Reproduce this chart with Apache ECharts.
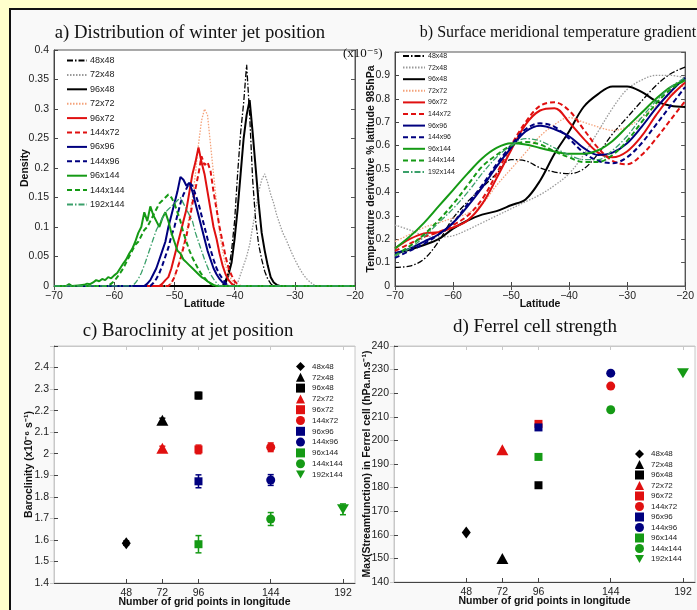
<!DOCTYPE html>
<html lang="en">
<head>
    <meta charset="UTF-8">
    <title>Jet position, temperature gradient, baroclinity and Ferrel cell</title>
    <script src="https://cdn.jsdelivr.net/npm/echarts@6.0.0/dist/echarts.min.js"></script>
</head>
<style>
    body{
        margin: 0;
        padding: 0;
        background: #ffffcc;
    }
    #frame{
        position: absolute;
        left: 9px;
        top: 8px;
        width: 688px;
        height: 602px;
        background: #f9f9f9;
        border-left: 2px solid #111;
        border-top: 2px solid #111;
    }
    #main{
        position: absolute;
        left: 0;
        top: 0;
        width: 697px;
        height: 610px;
    }
</style>
<body>
<div id="frame"></div>
<div id="main"></div>
<script>
    // resolutions (longitude x latitude grid points)
    var resolutions = ['48x48', '72x48', '96x48', '72x72', '96x72', '144x72', '96x96', '144x96', '96x144', '144x144', '192x144'];

    // a) jet position density, [latitude, density]
    var jet48x48 = [[-70, 0], [-42, 0], [-41.5, 0.01], [-41, 0.025], [-40.5, 0.06], [-40, 0.11], [-39.5, 0.19], [-39, 0.26], [-38.5, 0.31], [-38, 0.375], [-37.5, 0.29], [-37, 0.18], [-36.5, 0.11], [-36, 0.07], [-35.5, 0.045], [-35, 0.025], [-34.5, 0.012], [-34, 0.004], [-33.5, 0], [-20, 0]];
    var jet72x48 = [[-70, 0], [-40, 0], [-39.5, 0.005], [-39, 0.02], [-38.5, 0.035], [-38, 0.05], [-37.5, 0.07], [-37, 0.1], [-36.5, 0.13], [-36, 0.16], [-35.5, 0.18], [-35, 0.19], [-34.5, 0.175], [-34, 0.155], [-33.5, 0.14], [-33, 0.12], [-32.5, 0.105], [-32, 0.09], [-31.5, 0.08], [-31, 0.068], [-30.5, 0.056], [-30, 0.045], [-29.5, 0.035], [-29, 0.026], [-28.5, 0.018], [-28, 0.012], [-27.5, 0.007], [-27, 0.003], [-26.5, 0], [-20, 0]];
    var jet96x48 = [[-70, 0], [-42, 0], [-41.5, 0.005], [-41, 0.02], [-40.5, 0.04], [-40, 0.08], [-39.5, 0.13], [-39, 0.19], [-38.5, 0.25], [-38, 0.29], [-37.5, 0.315], [-37, 0.26], [-36.5, 0.2], [-36, 0.14], [-35.5, 0.09], [-35, 0.06], [-34.5, 0.035], [-34, 0.015], [-33.5, 0.006], [-33, 0.002], [-32.5, 0], [-20, 0]];
    var jet72x72 = [[-70, 0], [-51, 0], [-50.5, 0.005], [-50, 0.015], [-49.5, 0.03], [-49, 0.05], [-48.5, 0.07], [-48, 0.09], [-47.5, 0.12], [-47, 0.15], [-46.5, 0.19], [-46, 0.24], [-45.5, 0.28], [-45, 0.3], [-44.5, 0.29], [-44, 0.24], [-43.5, 0.19], [-43, 0.14], [-42.5, 0.09], [-42, 0.06], [-41.5, 0.035], [-41, 0.02], [-40.5, 0.01], [-40, 0.004], [-39.5, 0], [-20, 0]];
    var jet96x72 = [[-70, 0], [-52.5, 0], [-52, 0.004], [-51.5, 0.01], [-51, 0.015], [-50.5, 0.03], [-50, 0.05], [-49.5, 0.07], [-49, 0.09], [-48.5, 0.11], [-48, 0.13], [-47.5, 0.16], [-47, 0.19], [-46.5, 0.21], [-46, 0.235], [-45.5, 0.21], [-45, 0.19], [-44.5, 0.16], [-44, 0.13], [-43.5, 0.1], [-43, 0.08], [-42.5, 0.055], [-42, 0.035], [-41.5, 0.02], [-41, 0.01], [-40.5, 0.004], [-40, 0], [-20, 0]];
    var jet144x72 = [[-70, 0], [-51, 0], [-50.5, 0.005], [-50, 0.015], [-49.5, 0.03], [-49, 0.045], [-48.5, 0.065], [-48, 0.085], [-47.5, 0.11], [-47, 0.14], [-46.5, 0.165], [-46, 0.19], [-45.5, 0.22], [-45, 0.205], [-44.5, 0.21], [-44, 0.195], [-43.5, 0.16], [-43, 0.13], [-42.5, 0.1], [-42, 0.075], [-41.5, 0.05], [-41, 0.03], [-40.5, 0.018], [-40, 0.008], [-39.5, 0.003], [-39, 0], [-20, 0]];
    var jet96x96 = [[-70, 0], [-55, 0], [-54.5, 0.004], [-54, 0.01], [-53.5, 0.02], [-53, 0.03], [-52.5, 0.045], [-52, 0.06], [-51.5, 0.075], [-51, 0.1], [-50.5, 0.12], [-50, 0.14], [-49.5, 0.16], [-49, 0.185], [-48.5, 0.18], [-48, 0.17], [-47.5, 0.175], [-47, 0.16], [-46.5, 0.14], [-46, 0.12], [-45.5, 0.1], [-45, 0.08], [-44.5, 0.06], [-44, 0.045], [-43.5, 0.03], [-43, 0.02], [-42.5, 0.012], [-42, 0.006], [-41.5, 0.002], [-41, 0], [-20, 0]];
    var jet144x96 = [[-70, 0], [-54, 0], [-53.5, 0.005], [-53, 0.012], [-52.5, 0.022], [-52, 0.035], [-51.5, 0.05], [-51, 0.065], [-50.5, 0.085], [-50, 0.1], [-49.5, 0.12], [-49, 0.14], [-48.5, 0.155], [-48, 0.165], [-47.5, 0.175], [-47, 0.17], [-46.5, 0.155], [-46, 0.14], [-45.5, 0.12], [-45, 0.1], [-44.5, 0.08], [-44, 0.062], [-43.5, 0.045], [-43, 0.03], [-42.5, 0.02], [-42, 0.012], [-41.5, 0.005], [-41, 0], [-20, 0]];
    var jet96x144 = [[-70, 0], [-68, 0], [-67.5, 0.003], [-67, 0], [-66, 0.001], [-65, 0.002], [-64.5, 0.004], [-64, 0.003], [-63.5, 0.006], [-63, 0.01], [-62.5, 0.008], [-62, 0.012], [-61.5, 0.01], [-61, 0.015], [-60.5, 0.013], [-60, 0.018], [-59.5, 0.022], [-59, 0.03], [-58.5, 0.038], [-58, 0.045], [-57.5, 0.055], [-57, 0.063], [-56.5, 0.075], [-56, 0.09], [-55.5, 0.1], [-55, 0.125], [-54.5, 0.11], [-54, 0.135], [-53.5, 0.12], [-53, 0.11], [-52.5, 0.1], [-52, 0.115], [-51.5, 0.125], [-51, 0.11], [-50.5, 0.09], [-50, 0.075], [-49.5, 0.06], [-49, 0.055], [-48.5, 0.045], [-48, 0.04], [-47.5, 0.035], [-47, 0.03], [-46.5, 0.025], [-46, 0.02], [-45.5, 0.015], [-45, 0.012], [-44.5, 0.008], [-44, 0.005], [-43.5, 0.002], [-43, 0], [-20, 0]];
    var jet144x144 = [[-70, 0], [-61, 0], [-60.5, 0.004], [-60, 0.008], [-59.5, 0.015], [-59, 0.022], [-58.5, 0.03], [-58, 0.04], [-57.5, 0.05], [-57, 0.06], [-56.5, 0.07], [-56, 0.075], [-55.5, 0.085], [-55, 0.095], [-54.5, 0.1], [-54, 0.11], [-53.5, 0.12], [-53, 0.13], [-52.5, 0.14], [-52, 0.145], [-51.5, 0.15], [-51, 0.155], [-50.5, 0.15], [-50, 0.14], [-49.5, 0.125], [-49, 0.11], [-48.5, 0.09], [-48, 0.075], [-47.5, 0.06], [-47, 0.048], [-46.5, 0.038], [-46, 0.028], [-45.5, 0.02], [-45, 0.014], [-44.5, 0.008], [-44, 0.004], [-43.5, 0.001], [-43, 0], [-20, 0]];
    var jet192x144 = [[-70, 0], [-57, 0], [-56.5, 0.005], [-56, 0.012], [-55.5, 0.022], [-55, 0.035], [-54.5, 0.05], [-54, 0.065], [-53.5, 0.08], [-53, 0.095], [-52.5, 0.105], [-52, 0.115], [-51.5, 0.125], [-51, 0.13], [-50.5, 0.135], [-50, 0.14], [-49.5, 0.145], [-49, 0.15], [-48.5, 0.14], [-48, 0.13], [-47.5, 0.12], [-47, 0.11], [-46.5, 0.09], [-46, 0.075], [-45.5, 0.06], [-45, 0.045], [-44.5, 0.032], [-44, 0.02], [-43.5, 0.012], [-43, 0.005], [-42.5, 0], [-20, 0]];
    var jetCurves = [jet48x48, jet72x48, jet96x48, jet72x72, jet96x72, jet144x72, jet96x96, jet144x96, jet96x144, jet144x144, jet192x144];

    // b) surface meridional temperature gradient (x1e-5)
    var latB = [-70, -67.5, -65, -62.5, -60, -57.5, -55, -52.5, -50, -47.5, -45, -42.5, -40, -37.5, -35, -32.5, -30, -27.5, -25, -22.5, -20];
    var grad48x48 = [0.08, 0.085, 0.115, 0.19, 0.29, 0.36, 0.42, 0.48, 0.54, 0.535, 0.505, 0.487, 0.48, 0.5, 0.565, 0.65, 0.72, 0.79, 0.857, 0.907, 0.935];
    var grad72x48 = [0.26, 0.24, 0.215, 0.21, 0.215, 0.24, 0.27, 0.3, 0.33, 0.36, 0.39, 0.43, 0.48, 0.56, 0.66, 0.76, 0.84, 0.88, 0.9, 0.9, 0.89];
    var grad96x48 = [0.14, 0.155, 0.175, 0.2, 0.245, 0.28, 0.305, 0.32, 0.345, 0.37, 0.45, 0.565, 0.66, 0.765, 0.82, 0.853, 0.853, 0.83, 0.79, 0.77, 0.765];
    var grad72x72 = [0.19, 0.22, 0.25, 0.27, 0.29, 0.31, 0.35, 0.43, 0.5, 0.57, 0.64, 0.69, 0.72, 0.7, 0.68, 0.665, 0.68, 0.72, 0.77, 0.82, 0.86];
    var grad96x72 = [0.16, 0.2, 0.225, 0.23, 0.25, 0.28, 0.35, 0.46, 0.58, 0.69, 0.75, 0.76, 0.7, 0.63, 0.57, 0.55, 0.575, 0.64, 0.73, 0.81, 0.87];
    var grad144x72 = [0.15, 0.18, 0.21, 0.23, 0.26, 0.3, 0.37, 0.48, 0.6, 0.7, 0.77, 0.785, 0.75, 0.67, 0.59, 0.535, 0.52, 0.56, 0.63, 0.71, 0.79];
    var grad96x96 = [0.14, 0.16, 0.19, 0.22, 0.27, 0.34, 0.42, 0.51, 0.59, 0.66, 0.685, 0.67, 0.64, 0.59, 0.56, 0.57, 0.61, 0.68, 0.76, 0.83, 0.89];
    var grad144x96 = [0.12, 0.15, 0.18, 0.22, 0.27, 0.35, 0.43, 0.52, 0.6, 0.67, 0.695, 0.68, 0.63, 0.57, 0.535, 0.525, 0.55, 0.61, 0.69, 0.77, 0.85];
    var grad96x144 = [0.16, 0.21, 0.27, 0.34, 0.41, 0.48, 0.545, 0.59, 0.61, 0.605, 0.59, 0.575, 0.565, 0.565, 0.58, 0.62, 0.68, 0.74, 0.8, 0.85, 0.88];
    var grad144x144 = [0.13, 0.17, 0.22, 0.28, 0.35, 0.43, 0.51, 0.56, 0.6, 0.615, 0.605, 0.575, 0.55, 0.53, 0.53, 0.56, 0.62, 0.7, 0.78, 0.84, 0.88];
    var grad192x144 = [0.13, 0.16, 0.21, 0.27, 0.33, 0.4, 0.48, 0.55, 0.6, 0.63, 0.62, 0.59, 0.56, 0.54, 0.54, 0.58, 0.64, 0.72, 0.79, 0.85, 0.89];
    var gradCurves = [grad48x48, grad72x48, grad96x48, grad72x72, grad96x72, grad144x72, grad96x96, grad144x96, grad96x144, grad144x144, grad192x144];

    // c) and d) one point per resolution
    var lonPoints = [48, 72, 96, 72, 96, 144, 96, 144, 96, 144, 192];
    var baroclinity = [1.585, 2.155, 2.27, 2.025, 2.02, 2.03, 1.872, 1.878, 1.58, 1.697, 1.742];
    var baroError = [0.01, 0.01, 0.015, 0.01, 0.02, 0.02, 0.03, 0.025, 0.04, 0.03, 0.025];
    var ferrelMax = [161, 150, 181, 196, 207, 223, 205.5, 228.5, 193, 213, 228.5];
    var lonTicks = [48, 72, 96, 144, 192];

    // styles
    var lineColors = ['#000000', '#9a9a9a', '#000000', '#f4a27a', '#e01010', '#e01010', '#00007f', '#00007f', '#159a15', '#159a15', '#3aa06a'];
    var lineTypes = [[6, 2, 1.5, 2], [1.5, 1.5], 'solid', [1.5, 1.5], 'solid', [5, 3], 'solid', [5, 3], 'solid', [5, 3], [6, 2, 1.5, 2]];
    var lineWidths = [1.3, 1.3, 2, 1.3, 2, 2, 2, 2, 2, 2, 1.3];
    var markerColors = ['#000000', '#000000', '#000000', '#e01010', '#e01010', '#e01010', '#00007f', '#00007f', '#159a15', '#159a15', '#159a15'];
    var downTri = 'path://M0,0 L10,0 L5,9 Z';
    var markerSymbols = ['diamond', 'triangle', 'rect', 'triangle', 'rect', 'circle', 'rect', 'circle', 'rect', 'circle', downTri];
    var markerSizes = [[9, 12], [12, 11], [8, 8], [12, 11], [8, 8], [9, 9], [8, 8], [9, 9], [8, 8], [9, 9], [12, 10]];

    var nameFont = {fontFamily: 'Liberation Sans', fontSize: 10.5, fontWeight: 'bold', color: '#111'};
    var serif = '"Liberation Serif", "DejaVu Serif", serif';

    function minusSign(v) {
        return String(v).replace('-', '\u2212');
    }

    function mainAxis(grid, pos, min, max, interval, name, gap, extra) {
        var ax = {
            type: 'value', gridIndex: grid, position: pos, min: min, max: max, interval: interval,
            name: name, nameLocation: 'middle', nameGap: gap, nameTextStyle: nameFont, nameMoveOverlap: false,
            axisLine: {show: true, lineStyle: {color: '#444', width: 1}},
            axisTick: {show: true, inside: true, length: 4, lineStyle: {color: '#444'}},
            axisLabel: {show: true, margin: 5, formatter: minusSign, fontFamily: 'Liberation Sans', fontSize: 10.5, color: '#222'},
            splitLine: {show: false}
        };
        for (var k in extra) {
            ax[k] = extra[k];
        }
        return ax;
    }

    function mirrorAxis(grid, pos, min, max, interval, color, custom) {
        var ax = {
            type: 'value', gridIndex: grid, position: pos, min: min, max: max, interval: interval,
            axisLine: {show: true, lineStyle: {color: color}},
            axisTick: {show: true, inside: true, length: 4, lineStyle: {color: color}},
            axisLabel: {show: false},
            splitLine: {show: false}
        };
        if (custom) {
            ax.axisTick.customValues = custom;
        }
        return ax;
    }

    var lonExtra = {
        axisTick: {show: true, inside: true, length: 4, lineStyle: {color: '#444'}, customValues: lonTicks},
        axisLabel: {show: true, margin: 5, customValues: lonTicks, fontFamily: 'Liberation Sans', fontSize: 10.5, color: '#222'}
    };

    var chart = echarts.init(document.getElementById('main'));

    var series = [];
    for (var i = 0; i < resolutions.length; i++) {
        series.push({
            type: 'line', name: 'a|' + resolutions[i], xAxisIndex: 0, yAxisIndex: 0,
            data: jetCurves[i], symbol: 'none', clip: true,
            lineStyle: {color: lineColors[i], width: lineWidths[i], type: lineTypes[i]},
            itemStyle: {color: lineColors[i]}
        });
    }
    for (var i = 0; i < resolutions.length; i++) {
        var pts = [];
        for (var j = 0; j < latB.length; j++) {
            pts.push([latB[j], gradCurves[i][j]]);
        }
        series.push({
            type: 'line', name: 'b|' + resolutions[i], xAxisIndex: 1, yAxisIndex: 1,
            data: pts, symbol: 'none', smooth: 0.35, clip: true,
            lineStyle: {color: lineColors[i], width: lineWidths[i], type: lineTypes[i]},
            itemStyle: {color: lineColors[i]}
        });
    }
    // error bars for c)
    var errData = [];
    for (var i = 0; i < resolutions.length; i++) {
        errData.push([lonPoints[i], baroclinity[i], baroError[i], i]);
    }
    series.push({
        type: 'custom', name: 'errors', xAxisIndex: 2, yAxisIndex: 2, z: 1,
        data: errData,
        renderItem: function (params, api) {
            var x = api.value(0), y = api.value(1), e = api.value(2);
            var c = markerColors[api.value(3)];
            var p1 = api.coord([x, y + e]), p2 = api.coord([x, y - e]);
            var st = {stroke: c, lineWidth: 1.5};
            return {
                type: 'group', children: [
                    {type: 'line', shape: {x1: p1[0], y1: p1[1], x2: p2[0], y2: p2[1]}, style: st},
                    {type: 'line', shape: {x1: p1[0] - 3, y1: p1[1], x2: p1[0] + 3, y2: p1[1]}, style: st},
                    {type: 'line', shape: {x1: p2[0] - 3, y1: p2[1], x2: p2[0] + 3, y2: p2[1]}, style: st}
                ]
            };
        }
    });
    for (var i = 0; i < resolutions.length; i++) {
        series.push({
            type: 'scatter', name: 'c|' + resolutions[i], xAxisIndex: 2, yAxisIndex: 2, z: 3,
            data: [[lonPoints[i], baroclinity[i]]],
            symbol: markerSymbols[i], symbolSize: markerSizes[i],
            itemStyle: {color: markerColors[i], opacity: 1}
        });
    }
    for (var i = 0; i < resolutions.length; i++) {
        series.push({
            type: 'scatter', name: 'd|' + resolutions[i], xAxisIndex: 3, yAxisIndex: 3, z: 3,
            data: [[lonPoints[i], ferrelMax[i]]],
            symbol: markerSymbols[i], symbolSize: markerSizes[i],
            itemStyle: {color: markerColors[i], opacity: 1}
        });
    }

    function legendFor(prefix, left, top, iw, ih, gap, fs, lh, lineOnly, textPad) {
        var lg = {
            orient: 'vertical', left: left, top: top, padding: 0,
            itemWidth: iw, itemHeight: ih, itemGap: gap, selectedMode: false,
            data: resolutions.map(function (r) { return prefix + '|' + r; }),
            formatter: function (n) { return n.split('|')[1]; },
            textStyle: {fontFamily: 'Liberation Sans', fontSize: fs, lineHeight: lh, color: '#222', padding: [0, 0, 0, textPad]}
        };
        if (lineOnly) {
            // line series draw a symbol in the legend; hide it, keep the line
            lg.itemStyle = {opacity: 0};
        }
        return lg;
    }

    function titleText(text, x, y, size) {
        return {
            type: 'text', x: x, y: y,
            style: {text: text, font: size + 'px ' + serif, fill: '#111', align: 'center', verticalAlign: 'middle', textAlign: 'center', textVerticalAlign: 'middle'}
        };
    }

    var option = {
        animation: false,
        textStyle: {fontFamily: 'Liberation Sans'},
        grid: [
            {left: 54, top: 50, width: 301, height: 236, show: true, backgroundColor: '#ffffff', borderColor: '#555', borderWidth: 1},
            {left: 395, top: 52, width: 300, height: 234, show: true, backgroundColor: '#ffffff', borderColor: '#555', borderWidth: 1},
            {left: 54, top: 346, width: 301, height: 237, show: true, backgroundColor: '#ffffff', borderColor: '#c8c8c8', borderWidth: 1},
            {left: 394, top: 346, width: 301, height: 236, show: true, backgroundColor: '#ffffff', borderColor: '#c8c8c8', borderWidth: 1}
        ],
        xAxis: [
            mainAxis(0, 'bottom', -70, -20, 10, 'Latitude', 12.5, {}),
            mainAxis(1, 'bottom', -70, -20, 10, 'Latitude', 12.5, {}),
            mainAxis(2, 'bottom', 0, 200, null, 'Number of grid points in longitude', 14, lonExtra),
            mainAxis(3, 'bottom', 0, 200, null, 'Number of grid points in longitude', 14, lonExtra),
            mirrorAxis(0, 'top', -70, -20, 10, '#555'),
            mirrorAxis(1, 'top', -70, -20, 10, '#555'),
            mirrorAxis(2, 'top', 0, 200, null, '#c8c8c8', lonTicks),
            mirrorAxis(3, 'top', 0, 200, null, '#c8c8c8', lonTicks)
        ],
        yAxis: [
            mainAxis(0, 'left', 0, 0.4, 0.05, 'Density', 23, {}),
            mainAxis(1, 'left', 0, 1, 0.1, 'Temperature derivative % latitude 985hPa', 18, {}),
            mainAxis(2, 'left', 1.4, 2.5, 0.1, 'Baroclinity (x10\u207B\u2076 s\u207B\u00B9)', 19.5, {}),
            mainAxis(3, 'left', 140, 240, 10, 'Max(Streamfunction) in Ferrel cell (hPa.m.s\u207B\u00B9)', 21, {}),
            mirrorAxis(0, 'right', 0, 0.4, 0.05, '#555'),
            mirrorAxis(1, 'right', 0, 1, 0.1, '#555'),
            mirrorAxis(2, 'right', 1.4, 2.5, 0.1, '#c8c8c8'),
            mirrorAxis(3, 'right', 140, 240, 10, '#c8c8c8')
        ],
        legend: [
            legendFor('a', 66, 56, 20, 8, 5.4, 9, 9, true, -2),
            legendFor('b', 402, 52, 22, 7, 3.6, 7, 8, true, -2),
            legendFor('c', 296, 362, 9, 9, 1.8, 8, 9, false, 2),
            legendFor('d', 635, 449.5, 9, 9, 1.5, 8, 9, false, 2)
        ],
        graphic: [
            titleText('a) Distribution of winter jet position', 190, 33, 18.7),
            titleText('b) Surface meridional temperature gradient', 558, 33, 16),
            titleText('c) Baroclinity at jet position', 188, 331, 18.8),
            titleText('d) Ferrel cell strength', 535, 327, 19),
            {type: 'text', x: 343, y: 54, z: 10, style: {text: '(x10\u207B\u2075)', font: '13px ' + serif, fill: '#111', align: 'left', verticalAlign: 'middle', textAlign: 'left', textVerticalAlign: 'middle'}}
        ],
        series: series
    };
    // hide the top tick labels that the picture leaves out
    option.yAxis[1].axisLabel.formatter = function (v) { return v > 0.95 ? '' : minusSign(v); };
    option.yAxis[2].axisLabel.formatter = function (v) { return v > 2.45 ? '' : String(v); };

    chart.setOption(option);
</script>
</body>
</html>
